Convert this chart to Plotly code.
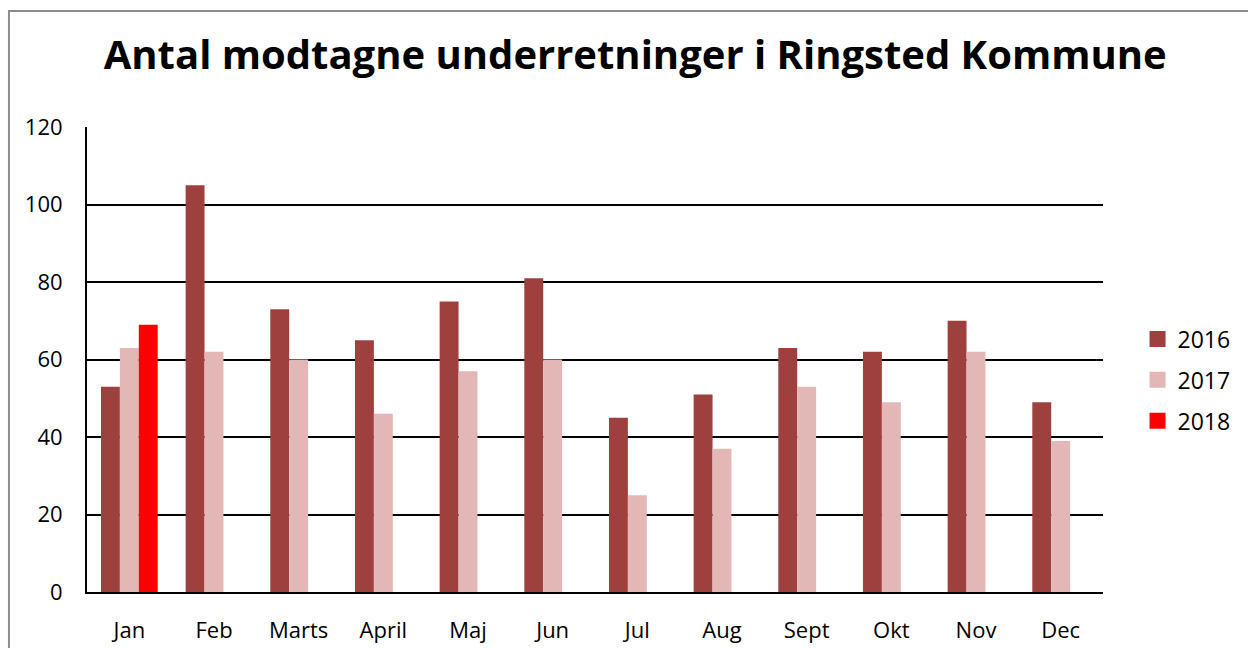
import plotly.graph_objects as go

months = ["Jan", "Feb", "Marts", "April", "Maj", "Jun", "Jul", "Aug", "Sept", "Okt", "Nov", "Dec"]
y2016 = [53, 105, 73, 65, 75, 81, 45, 51, 63, 62, 70, 49]
y2017 = [63, 62, 60, 46, 57, 60, 25, 37, 53, 49, 62, 39]
y2018 = [69, None, None, None, None, None, None, None, None, None, None, None]

series = [
    ("2016", y2016, "#9e403e"),
    ("2017", y2017, "#e4b7b7"),
    ("2018", y2018, "#ff0000"),
]

fig = go.Figure()
for name, vals, color in series:
    fig.add_trace(go.Bar(x=months, y=vals, name=name, showlegend=False,
                         marker=dict(color=color, line=dict(width=0))))

# legend entries with bigger square swatches, like the original
for name, vals, color in series:
    fig.add_trace(go.Scatter(x=[None], y=[None], name=name, mode="markers", legendgroup=name,
                             marker=dict(symbol="square", size=17, color=color)))

font = "Open Sans, Lato, sans-serif"

fig.update_layout(
    width=1248,
    height=648,
    barmode="group",
    bargap=0.33,
    bargroupgap=0,
    plot_bgcolor="white",
    paper_bgcolor="white",
    margin=dict(l=87, r=145, t=127, b=56),
    title=dict(
        text="<b>Antal modtagne underretninger i Ringsted Kommune</b>",
        x=0.509, xanchor="center", xref="container",
        y=0.915, yanchor="middle",
        font=dict(family=font, size=40, color="black"),
    ),
    font=dict(family=font, size=22, color="black"),
    legend=dict(
        x=1.034, xanchor="left", y=0.456, yanchor="middle",
        font=dict(size=23), itemwidth=30, tracegroupgap=8,
    ),
    xaxis=dict(
        showgrid=False, showline=True, linecolor="black", linewidth=2,
        ticks="", tickfont=dict(size=22), ticklabelstandoff=18, automargin=False,
    ),
    yaxis=dict(
        range=[0, 120], dtick=20, showgrid=True, gridcolor="black", gridwidth=1.5,
        showline=True, linecolor="black", linewidth=2, zeroline=False,
        ticks="", ticklabelstandoff=18, tickfont=dict(size=22), automargin=False,
    ),
    shapes=[dict(
        type="rect", xref="paper", yref="paper",
        x0=-0.0768, x1=1.2, y0=-0.3, y1=1.2495,
        line=dict(color="#8c8c8c", width=2), fillcolor="rgba(0,0,0,0)", layer="below",
    )],
)

fig.write_html("out.html", config={"displayModeBar": False},
               post_script="document.body.style.margin='0px';")
